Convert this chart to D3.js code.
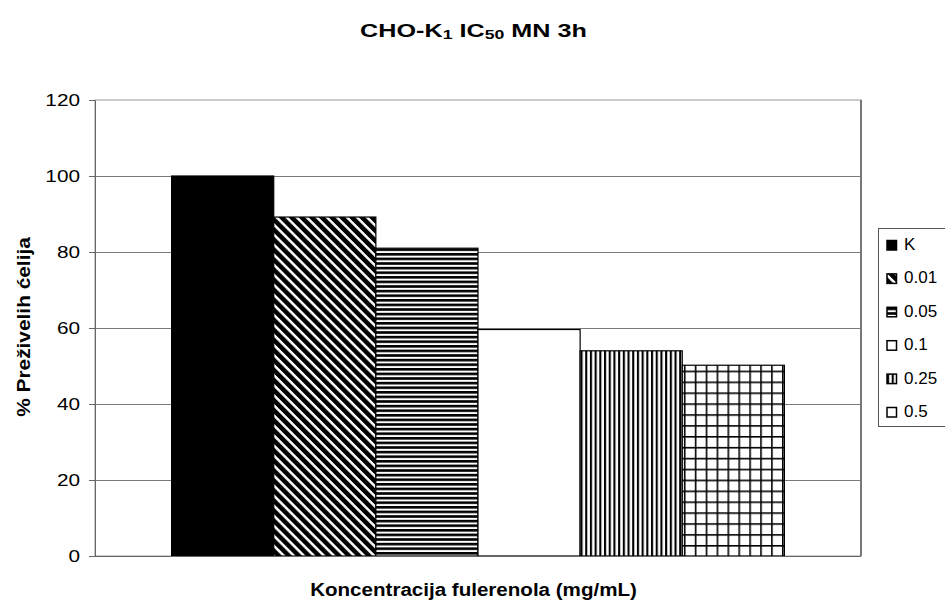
<!DOCTYPE html>
<html>
<head>
<meta charset="utf-8">
<script src="https://cdn.jsdelivr.net/npm/d3@7"></script>
<style>
  html, body { margin: 0; padding: 0; background: #fff; }
  svg { display: block; font-family: "Liberation Sans", Arial, sans-serif; }
</style>
</head>
<body>
<script>
// data
const series = ["K", "0.01", "0.05", "0.1", "0.25", "0.5"];
const values = [100, 89.2, 81, 59.6, 54, 50.2];
const patterns = ["solid", "diag", "horiz", "none", "vert", "grid"];
const yTicks = [0, 20, 40, 60, 80, 100, 120];

const width = 945;
const height = 602;
const plot = { left: 95, right: 861, top: 100, bottom: 556 };

const svg = d3.select("body").append("svg")
  .attr("width", width)
  .attr("height", height);

// the reference text is drawn a bit wider than normal, so stretch it to fit
const stretch = (sel, cx, target) => {
  const w = sel.node().getBBox().width;
  const s = target / w;
  sel.attr("transform", `translate(${cx},0) scale(${s},1) translate(${-cx},0)`);
};

// fill patterns
const defs = svg.append("defs");

const diag = defs.append("pattern")
  .attr("id", "p-diag")
  .attr("patternUnits", "userSpaceOnUse")
  .attr("width", 7.1).attr("height", 7.1)
  .attr("patternTransform", "rotate(-45)");
diag.append("rect").attr("width", 7.1).attr("height", 7.1).attr("fill", "#fff");
diag.append("rect").attr("width", 4.6).attr("height", 7.1).attr("fill", "#000");

const horiz = defs.append("pattern")
  .attr("id", "p-horiz")
  .attr("patternUnits", "userSpaceOnUse")
  .attr("width", 10).attr("height", 4.6);
horiz.append("rect").attr("width", 10).attr("height", 4.6).attr("fill", "#fff");
horiz.append("rect").attr("width", 10).attr("height", 2.6).attr("fill", "#000");

const vert = defs.append("pattern")
  .attr("id", "p-vert")
  .attr("patternUnits", "userSpaceOnUse")
  .attr("width", 4.7).attr("height", 10);
vert.append("rect").attr("width", 4.7).attr("height", 10).attr("fill", "#fff");
vert.append("rect").attr("width", 2.1).attr("height", 10).attr("fill", "#000");

const grid = defs.append("pattern")
  .attr("id", "p-grid")
  .attr("patternUnits", "userSpaceOnUse")
  .attr("width", 10.9).attr("height", 10.9);
grid.append("rect").attr("width", 10.9).attr("height", 10.9).attr("fill", "#fff");
grid.append("rect").attr("width", 1.6).attr("height", 10.9).attr("fill", "#000");
grid.append("rect").attr("width", 10.9).attr("height", 1.6).attr("fill", "#000");

const fillFor = (p) => {
  if (p === "solid") return "#000";
  if (p === "none") return "#fff";
  return `url(#p-${p})`;
};

// scales
const y = d3.scaleLinear().domain([0, 120]).range([plot.bottom, plot.top]);
const x0 = d3.scaleBand().domain(["g"]).range([plot.left, plot.right])
  .paddingInner(0).paddingOuter(0.125);
const x1 = d3.scaleBand().domain(series).range([0, x0.bandwidth()]).padding(0);

// plot area + gridlines
svg.append("rect")
  .attr("x", plot.left).attr("y", plot.top)
  .attr("width", plot.right - plot.left).attr("height", plot.bottom - plot.top)
  .attr("fill", "#fff").attr("stroke", "#9a9a9a");

svg.append("line")
  .attr("x1", plot.right).attr("x2", plot.right)
  .attr("y1", plot.top).attr("y2", plot.bottom)
  .attr("stroke", "#222");

svg.append("g")
  .selectAll("line")
  .data(yTicks.filter((t) => t > 0 && t < 120))
  .join("line")
  .attr("x1", plot.left).attr("x2", plot.right)
  .attr("y1", (d) => Math.round(y(d)) + 0.5).attr("y2", (d) => Math.round(y(d)) + 0.5)
  .attr("stroke", "#7a7a7a");

// bars
svg.append("g")
  .attr("transform", `translate(${x0("g")},0)`)
  .selectAll("rect")
  .data(series)
  .join("rect")
  .attr("x", (d) => x1(d))
  .attr("y", (d, i) => y(values[i]))
  .attr("width", x1.bandwidth())
  .attr("height", (d, i) => y(0) - y(values[i]))
  .attr("fill", (d, i) => fillFor(patterns[i]))
  .attr("stroke", "#000")
  .attr("stroke-width", 1.2);

// y axis
const yAxis = svg.append("g")
  .attr("transform", `translate(${plot.left},0)`)
  .call(d3.axisLeft(y).tickValues(yTicks).tickSize(6).tickPadding(0));
yAxis.select(".domain").attr("stroke", "#666");
yAxis.selectAll(".tick line").attr("stroke", "#666");
yAxis.selectAll(".tick text")
  .attr("x", 0)
  .attr("dy", "0.36em")
  .attr("font-size", 16.5)
  .attr("fill", "#000")
  .attr("font-family", "Liberation Sans, Arial, sans-serif")
  .attr("transform", "translate(-15,0) scale(1.26,1)");

// x axis line
svg.append("line")
  .attr("x1", plot.left).attr("x2", plot.right)
  .attr("y1", plot.bottom + 0.5).attr("y2", plot.bottom + 0.5)
  .attr("stroke", "#666");

// title
const title = svg.append("text")
  .attr("x", 473.5).attr("y", 36.6)
  .attr("text-anchor", "middle")
  .attr("font-size", 18.5)
  .attr("font-weight", "bold");
title.append("tspan").text("CHO-K");
title.append("tspan").attr("font-size", 13).attr("dy", 2.5).text("1");
title.append("tspan").attr("dy", -2.5).text(" IC");
title.append("tspan").attr("font-size", 13).attr("dy", 2.5).text("50");
title.append("tspan").attr("dy", -2.5).text(" MN 3h");
stretch(title, 473.5, 227);

// axis titles
const xTitle = svg.append("text")
  .attr("x", 473.5).attr("y", 596)
  .attr("text-anchor", "middle")
  .attr("font-size", 18.5)
  .attr("font-weight", "bold")
  .text("Koncentracija fulerenola (mg/mL)");
stretch(xTitle, 473.5, 327);

const yTitle = svg.append("text")
  .attr("text-anchor", "middle")
  .attr("font-size", 17.5)
  .attr("font-weight", "bold")
  .text("% Preživelih ćelija");
const yTitleW = yTitle.node().getBBox().width;
yTitle.attr("transform", `translate(30,327) rotate(-90) scale(${180 / yTitleW},1)`);

// legend
const legend = svg.append("g");
legend.append("rect")
  .attr("x", 878.5).attr("y", 228.5)
  .attr("width", 80).attr("height", 198)
  .attr("fill", "#fff").attr("stroke", "#555");

const item = legend.selectAll("g.item")
  .data(series)
  .join("g")
  .attr("class", "item")
  .attr("transform", (d, i) => `translate(887,${250 + i * 33.4})`);

item.append("rect")
  .attr("x", 0).attr("y", -9.5)
  .attr("width", 9.5).attr("height", 9.5)
  .attr("fill", (d, i) => (patterns[i] === "grid" ? "#fff" : fillFor(patterns[i])))
  .attr("stroke", "#000")
  .attr("stroke-width", 1.5);

item.append("text")
  .attr("x", 17).attr("y", 0)
  .attr("font-size", 17)
  .text((d) => d);
</script>
</body>
</html>
